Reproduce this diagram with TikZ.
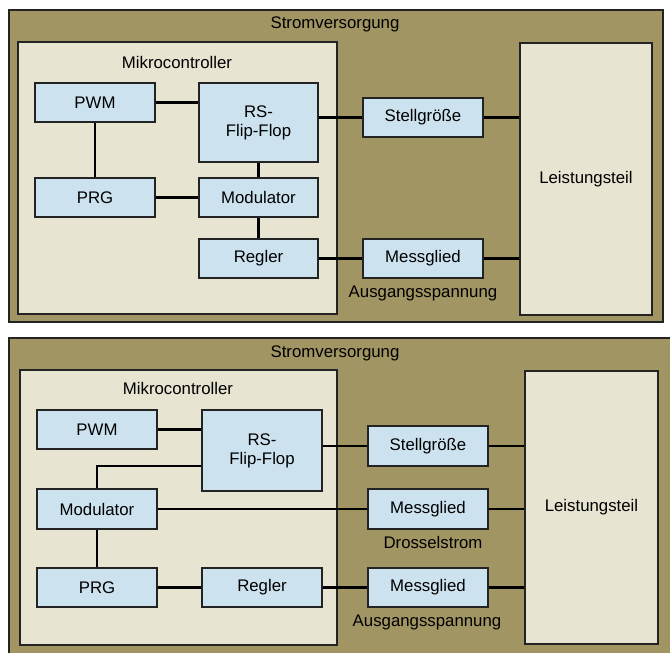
\documentclass[tikz,border=0pt]{standalone}
\usepackage{fontspec}
\setmainfont{Liberation Sans}
\definecolor{olive}{RGB}{161,149,99}
\definecolor{beige}{RGB}{232,228,210}
\definecolor{lblue}{RGB}{204,227,239}
\definecolor{edge}{RGB}{35,35,35}
\tikzset{
  panel/.style={draw=edge, line width=1.6pt, fill=olive},
  mcbox/.style={draw=edge, line width=1.5pt, fill=beige},
  block/.style={draw=edge, line width=1.5pt, fill=lblue, inner sep=0pt, font=\fontsize{16.8}{19}\selectfont, align=center},
  lbl/.style={inner sep=0pt, font=\fontsize{16.8}{19}\selectfont},
  wire/.style={draw=black, line width=2.4pt},
}
\begin{document}
\begin{tikzpicture}[x=1pt,y=-1pt]
\useasboundingbox (0,0) rectangle (670,653);
\fill[white] (0,0) rectangle (670,653);
% ---------- top panel ----------
\draw[panel] (9,10) rectangle (663,322);
\node[lbl] (sv1) at (335,24) {Stromversorgung};
\draw[mcbox] (18,42) rectangle (337,314);
\node[lbl] (mc1) at (177,62) {Mikrocontroller};
\node[block, minimum width=120pt, minimum height=39pt] (pwm1) at (95,102.5) {PWM};
\node[block, minimum width=119pt, minimum height=79pt] (rs1) at (258.5,122.5) {RS-\\Flip-Flop};
\node[block, minimum width=120pt, minimum height=39pt] (prg1) at (95,197.5) {PRG};
\node[block, minimum width=119pt, minimum height=39pt] (mod1) at (258.5,197.5) {Modulator};
\node[block, minimum width=119pt, minimum height=39pt] (reg1) at (258.5,258.5) {Regler};
\node[block, minimum width=120pt, minimum height=39pt] (stg1) at (423,117.5) {Stellgröße};
\node[block, minimum width=120pt, minimum height=39pt] (mes1) at (423,258.5) {Messglied};
\node[lbl] (aus1) at (423,293) {Ausgangsspannung};
\node[block, fill=beige, minimum width=132pt, minimum height=272pt] (lei1) at (586,179) {Leistungsteil};
\draw[wire] (pwm1.east) -- (pwm1.east -| rs1.west);
\draw[wire] (stg1.west -| rs1.east) -- (stg1.west);
\draw[wire] (stg1.east) -- (stg1.east -| lei1.west);
\draw[wire] (pwm1.south) -- (prg1.north);
\draw[wire] (prg1.east) -- (mod1.west);
\draw[wire] (rs1.south) -- (mod1.north);
\draw[wire] (mod1.south) -- (reg1.north);
\draw[wire] (reg1.east) -- (mes1.west);
\draw[wire] (mes1.east) -- (mes1.east -| lei1.west);
% ---------- bottom panel ----------
\draw[panel] (9,338) rectangle (672,656);
\node[lbl] (sv2) at (335,353) {Stromversorgung};
\draw[mcbox] (20,370) rectangle (337,645);
\node[lbl] (mc2) at (178,388) {Mikrocontroller};
\node[block, minimum width=120pt, minimum height=39pt] (pwm2) at (97,429.5) {PWM};
\node[block, minimum width=120pt, minimum height=81pt] (rs2) at (262,450.5) {RS-\\Flip-Flop};
\node[block, minimum width=120pt, minimum height=40pt] (mod2) at (97,509) {Modulator};
\node[block, minimum width=120pt, minimum height=39pt] (prg2) at (97,587.5) {PRG};
\node[block, minimum width=120pt, minimum height=39pt] (reg2) at (262,587.5) {Regler};
\node[block, minimum width=120pt, minimum height=40pt] (stg2) at (428,446) {Stellgröße};
\node[block, minimum width=120pt, minimum height=40pt] (mesa) at (428,509) {Messglied};
\node[lbl] (dro) at (433,542) {Drosselstrom};
\node[block, minimum width=120pt, minimum height=39pt] (mesb) at (428,587.5) {Messglied};
\node[lbl] (aus2) at (427,622) {Ausgangsspannung};
\node[block, fill=beige, minimum width=133pt, minimum height=273pt] (lei2) at (591.5,507.5) {Leistungsteil};
\draw[wire] (pwm2.east) -- (pwm2.east -| rs2.west);
\draw[wire] (stg2.west -| rs2.east) -- (stg2.west);
\draw[wire] (stg2.east) -- (stg2.east -| lei2.west);
\draw[wire] ([yshift=-15.5pt]rs2.west) -| (mod2.north);
\draw[wire] (mod2.east) -- (mod2.east -| mesa.west);
\draw[wire] (mesa.east) -- (mesa.east -| lei2.west);
\draw[wire] (mod2.south) -- (prg2.north);
\draw[wire] (prg2.east) -- (reg2.west);
\draw[wire] (reg2.east) -- (mesb.west);
\draw[wire] (mesb.east) -- (mesb.east -| lei2.west);
\end{tikzpicture}
\end{document}
